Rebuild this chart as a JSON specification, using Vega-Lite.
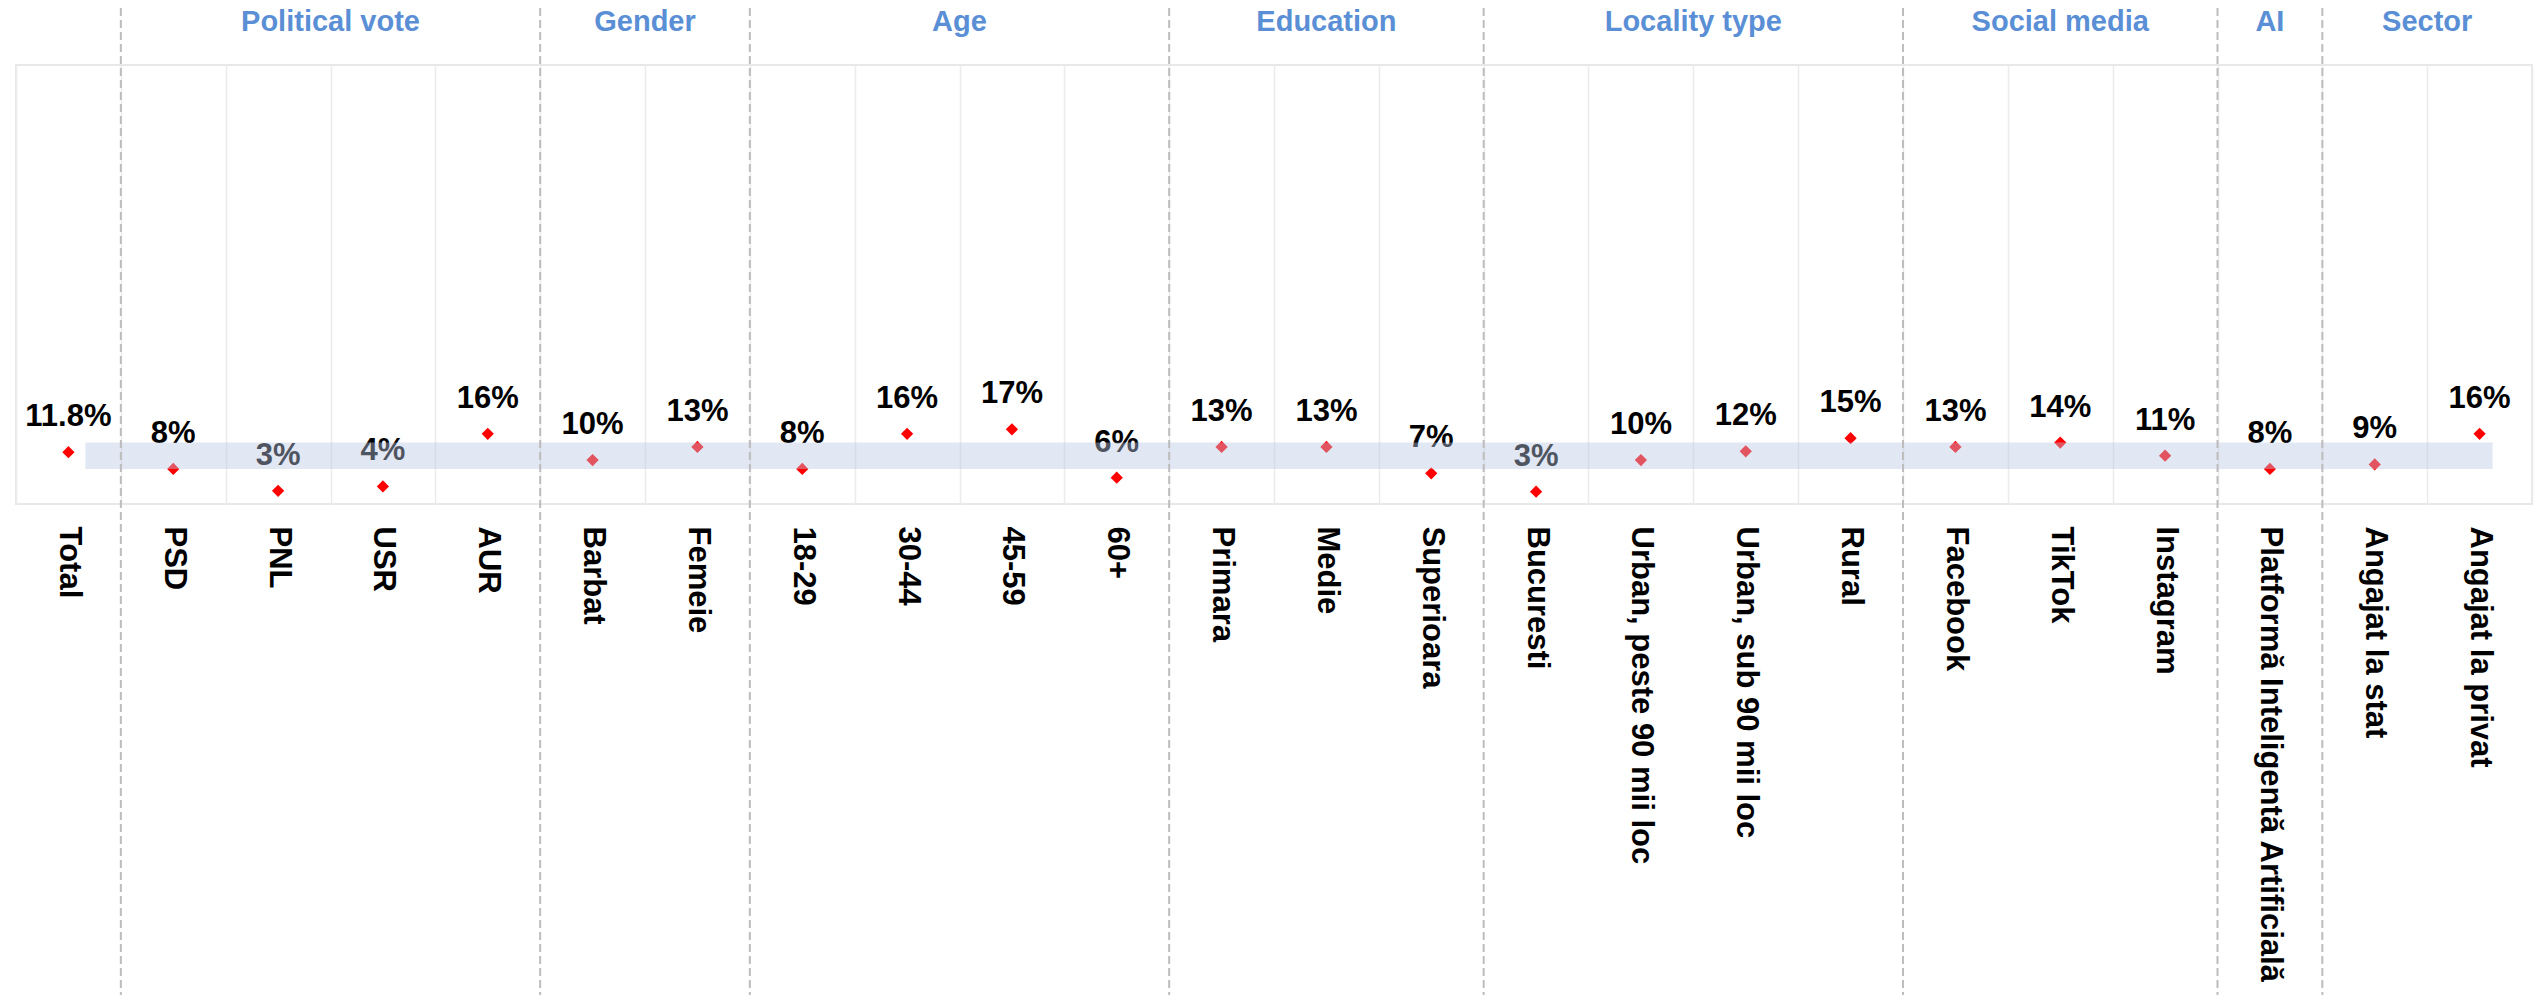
{
  "$schema": "https://vega.github.io/schema/vega-lite/v6.json",
  "width": 2516,
  "height": 439,
  "autosize": {"type": "none"},
  "padding": {"left": 16, "top": 65, "right": 2, "bottom": 491},
  "background": "white",
  "config": {
    "font": "Liberation Sans",
    "view": {"stroke": "#E8E8E8", "strokeWidth": 2}
  },
  "datasets": {
    "rows": [
      {"cat": "Total", "v": 11.8, "label": "11.8%"},
      {"cat": "PSD", "v": 8, "label": "8%"},
      {"cat": "PNL", "v": 3, "label": "3%"},
      {"cat": "USR", "v": 4, "label": "4%"},
      {"cat": "AUR", "v": 16, "label": "16%"},
      {"cat": "Barbat", "v": 10, "label": "10%"},
      {"cat": "Femeie", "v": 13, "label": "13%"},
      {"cat": "18-29", "v": 8, "label": "8%"},
      {"cat": "30-44", "v": 16, "label": "16%"},
      {"cat": "45-59", "v": 17, "label": "17%"},
      {"cat": "60+", "v": 6, "label": "6%"},
      {"cat": "Primara", "v": 13, "label": "13%"},
      {"cat": "Medie", "v": 13, "label": "13%"},
      {"cat": "Superioara", "v": 7, "label": "7%"},
      {"cat": "Bucuresti", "v": 2.8, "label": "3%"},
      {"cat": "Urban, peste 90 mii loc", "v": 10, "label": "10%"},
      {"cat": "Urban, sub 90 mii loc", "v": 12, "label": "12%"},
      {"cat": "Rural", "v": 15, "label": "15%"},
      {"cat": "Facebook", "v": 13, "label": "13%"},
      {"cat": "TikTok", "v": 14, "label": "14%"},
      {"cat": "Instagram", "v": 11, "label": "11%"},
      {"cat": "Platformă Inteligentă Artificială", "v": 8, "label": "8%"},
      {"cat": "Angajat la stat", "v": 9, "label": "9%"},
      {"cat": "Angajat la privat", "v": 16, "label": "16%"}
    ],
    "range": [
      {"from": "Total", "to": "Angajat la privat", "lo": 8, "hi": 14}
    ],
    "separators": [
      {"cat": "PSD"}, {"cat": "Barbat"}, {"cat": "18-29"}, {"cat": "Primara"},
      {"cat": "Bucuresti"}, {"cat": "Facebook"}, {"cat": "Platformă Inteligentă Artificială"}, {"cat": "Angajat la stat"}
    ],
    "headersEdge": [
      {"cat": "USR", "h": "Political vote"},
      {"cat": "Femeie", "h": "Gender"},
      {"cat": "45-59", "h": "Age"},
      {"cat": "Urban, sub 90 mii loc", "h": "Locality type"},
      {"cat": "Angajat la privat", "h": "Sector"}
    ],
    "headersMid": [
      {"cat": "Medie", "h": "Education"},
      {"cat": "TikTok", "h": "Social media"},
      {"cat": "Platformă Inteligentă Artificială", "h": "AI"}
    ]
  },
  "layer": [
    {
      "data": {"name": "rows"},
      "mark": {"type": "point", "shape": "diamond", "filled": true, "color": "#FF0000", "size": 150, "opacity": 1},
      "encoding": {
        "x": {
          "field": "cat", "type": "nominal", "sort": null,
          "scale": {"paddingInner": 0, "paddingOuter": 0, "domain": ["Total","PSD","PNL","USR","AUR","Barbat","Femeie","18-29","30-44","45-59","60+","Primara","Medie","Superioara","Bucuresti","Urban, peste 90 mii loc","Urban, sub 90 mii loc","Rural","Facebook","TikTok","Instagram","Platformă Inteligentă Artificială","Angajat la stat","Angajat la privat"]},
          "axis": {
            "title": null, "labelAngle": 90, "labelAlign": "left", "labelBaseline": "middle",
            "labelFontSize": 31, "labelFontWeight": "bold", "labelColor": "#000000", "labelFont": "Liberation Sans",
            "labelPadding": 22, "labelLimit": 800, "ticks": false, "domain": false,
            "grid": true, "gridColor": "#EBEBEB", "gridWidth": 1.5, "tickBand": "extent"
          }
        },
        "y": {"field": "v", "type": "quantitative", "scale": {"domain": [0, 100], "clamp": false}, "axis": null}
      }
    },
    {
      "data": {"name": "rows"},
      "mark": {"type": "text", "dy": -26, "baseline": "alphabetic", "align": "center", "fontSize": 31, "fontWeight": "bold", "color": "#000000"},
      "encoding": {
        "x": {"field": "cat", "type": "nominal", "sort": null},
        "y": {"field": "v", "type": "quantitative"},
        "text": {"field": "label"}
      }
    },
    {
      "data": {"name": "range"},
      "mark": {"type": "rect", "color": "#B7C6E2", "opacity": 0.425, "xOffset": 17, "x2Offset": 13},
      "encoding": {
        "x": {"field": "from", "type": "nominal", "sort": null},
        "x2": {"field": "to"},
        "y": {"field": "hi", "type": "quantitative"},
        "y2": {"field": "lo"}
      }
    },
    {
      "data": {"name": "separators"},
      "mark": {"type": "rule", "color": "#BDBDBD", "strokeWidth": 2, "strokeDash": [8, 4], "clip": false},
      "encoding": {
        "x": {"field": "cat", "type": "nominal", "sort": null, "bandPosition": 0},
        "y": {"datum": 113},
        "y2": {"datum": -113}
      }
    },
    {
      "data": {"name": "headersEdge"},
      "mark": {"type": "text", "baseline": "alphabetic", "align": "center", "fontSize": 29, "fontWeight": "bold", "color": "#5A8FD6"},
      "encoding": {
        "x": {"field": "cat", "type": "nominal", "sort": null, "bandPosition": 0},
        "y": {"datum": 107.7},
        "text": {"field": "h"}
      }
    },
    {
      "data": {"name": "headersMid"},
      "mark": {"type": "text", "baseline": "alphabetic", "align": "center", "fontSize": 29, "fontWeight": "bold", "color": "#5A8FD6"},
      "encoding": {
        "x": {"field": "cat", "type": "nominal", "sort": null},
        "y": {"datum": 107.7},
        "text": {"field": "h"}
      }
    }
  ]
}
